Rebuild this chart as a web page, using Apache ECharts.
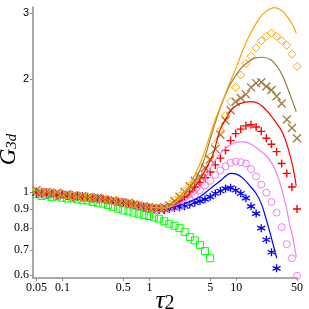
<!DOCTYPE html>
<html><head><meta charset="utf-8">
<script src="https://cdn.jsdelivr.net/npm/echarts@6/dist/echarts.min.js"></script>
<style>html,body{margin:0;padding:0;background:#fff}#c{width:309px;height:309px}</style>
</head><body><div id="c"></div>
<script>
// shared tau grid for the measured points
var tau = [0.05,0.0573,0.0656,0.0751,0.0860,0.0984,0.1127,0.1291,0.1478,0.1692,0.1938,0.2219,0.2541,0.2909,0.3331,0.3814,0.4367,0.5,0.573,0.656,0.751,0.860,0.984,1.127,1.291,1.478,1.692,1.938,2.219,2.541,2.909,3.331,3.814,4.367,5.0,5.73,6.56,7.51,8.60,9.84,11.27,12.91,14.78,16.92,19.38,22.19,25.41,29.09,33.31,38.14,43.67,50.0];

var greenPts = [0.985,0.975,0.98,0.97,0.972,0.965,0.96,0.962,0.955,0.95,0.948,0.94,0.935,0.93,0.922,0.912,0.902,0.892,0.887,0.88,0.875,0.868,0.862,0.855,0.848,0.835,0.822,0.812,0.8,0.782,0.758,0.742,0.722,0.695,0.665];
var bluePts = [0.99,1.0,0.985,0.99,0.98,0.985,0.975,0.98,0.97,0.975,0.965,0.96,0.965,0.955,0.95,0.945,0.94,0.935,0.93,0.925,0.915,0.91,0.905,0.9,0.895,0.895,0.9,0.905,0.91,0.915,0.925,0.935,0.945,0.955,0.97,0.99,1.005,1.02,1.025,1.01,0.99,0.962,0.915,0.875,0.8,0.745,0.69,0.625];
var violetPts = [1.0,0.99,1.0,0.985,0.99,0.98,0.985,0.975,0.98,0.97,0.965,0.97,0.96,0.955,0.95,0.945,0.94,0.94,0.93,0.925,0.92,0.915,0.91,0.905,0.9,0.9,0.905,0.91,0.915,0.925,0.95,0.98,1.01,1.04,1.07,1.11,1.14,1.17,1.195,1.205,1.2,1.19,1.15,1.1,1.045,0.995,0.94,0.88,0.805,0.725,0.665,0.597];
var redPts = [1.0,0.985,0.995,0.99,0.98,0.985,0.975,0.97,0.975,0.965,0.97,0.96,0.955,0.96,0.95,0.945,0.94,0.935,0.93,0.925,0.92,0.91,0.91,0.9,0.9,0.9,0.91,0.925,0.945,0.97,1.0,1.03,1.06,1.09,1.13,1.18,1.23,1.29,1.37,1.43,1.47,1.5,1.51,1.49,1.45,1.39,1.34,1.28,1.19,1.12,1.03,0.9];
var brownPts = [1.01,0.995,1.0,0.99,0.995,0.98,0.985,0.975,0.97,0.975,0.965,0.96,0.965,0.955,0.95,0.95,0.94,0.935,0.935,0.925,0.92,0.915,0.91,0.905,0.905,0.91,0.92,0.945,0.97,1.0,1.035,1.07,1.1,1.16,1.22,1.3,1.42,1.55,1.65,1.74,1.78,1.82,1.9,1.95,1.96,1.91,1.87,1.8,1.72,1.56,1.48,1.39];
var orangePts = [1.005,1.0,0.99,0.995,0.985,0.99,0.98,0.975,0.98,0.97,0.965,0.965,0.96,0.955,0.955,0.945,0.945,0.935,0.93,0.93,0.92,0.915,0.91,0.905,0.905,0.91,0.925,0.95,0.975,1.005,1.04,1.08,1.11,1.17,1.24,1.34,1.46,1.6,1.74,1.9,2.05,2.2,2.3,2.42,2.53,2.6,2.65,2.6,2.53,2.46,2.33,2.16];

// theory curves
var blueLineX = [1,1.5,2.2,3,3.8,5,6.4,7.5,8.6,10,11.9,14.2,16.9,19.4,22.1,24,26.3,28,29.2];
var blueLineY = [0.91,0.905,0.92,0.945,0.97,1.02,1.065,1.1,1.12,1.115,1.088,1.04,0.99,0.93,0.845,0.79,0.73,0.69,0.665];
var violetLineX = [1,1.5,2.2,3,3.8,5,6.4,8,9.5,11.5,14,18.6,22,26.3,30,34.4,38,41,45,49];
var violetLineY = [0.91,0.905,0.93,0.97,1.02,1.15,1.26,1.32,1.35,1.36,1.35,1.29,1.25,1.18,1.1,0.99,0.9,0.823,0.75,0.67];
var redLineX = [1,1.5,2.2,3,4,5.4,6.4,8,9.1,11,14.9,18,22.1,27,34.4,41,45,49];
var redLineY = [0.91,0.905,0.94,1.0,1.1,1.26,1.45,1.6,1.67,1.72,1.74,1.72,1.653,1.56,1.432,1.266,1.16,1.035];
var brownLineX = [1,1.5,2.2,3,4,5,6.4,8,9.1,11,13,16,20.2,25,30,34.4,40,45,49];
var brownLineY = [0.91,0.905,0.95,1.03,1.17,1.38,1.652,1.88,1.987,2.12,2.2,2.27,2.286,2.25,2.15,2.03,1.86,1.73,1.636];
var orangeLineX = [1,1.5,2.2,3,4,5,5.9,7,8,10,12,14,17,20,24,27.5,33,40,45,49];
var orangeLineY = [0.91,0.905,0.96,1.06,1.22,1.42,1.586,1.75,1.9,2.15,2.4,2.6,2.82,2.97,3.07,3.1,3.05,2.9,2.78,2.65];

var xTicks = [0.05,0.1,0.5,1,5,10,50];
var xTickLabels = ['0.05','0.1','0.5','1','5','10','50'];
var yTicks = [0.6,0.7,0.8,0.9,1,2,3];
var yTickLabels = ['0.6','0.7','0.8','0.9','1','2','3'];

var L = Math.log10;
function pts(xs, ys){ return ys.map(function(y,i){ return [L(xs[i]), L(y)]; }); }
function lab(ticks, labels, v, sansSet){
  for (var i=0;i<ticks.length;i++){ if (Math.abs(L(ticks[i])-v)<1e-6){
    return (sansSet && sansSet.indexOf(labels[i])>=0) ? '{s|'+labels[i]+'}' : labels[i]; } }
  return '';
}
var serif = 'Liberation Serif';
var axisCol = '#8c8c8c';

var C = {green:'#00ff00', blue:'#0000ff', violet:'#ee82ee', red:'#ff0000', brown:'#9b7a3c', orange:'#ffa500'};
var SYM = {
  plus:'path://M5,0L5,10M0,5L10,5',
  cross:'path://M0,0L10,10M10,0L0,10',
  star:'path://M5,0L5,10M0.67,2.5L9.33,7.5M0.67,7.5L9.33,2.5'
};
function scat(data, sym, size, col, bw){
  return {type:'scatter', data:data, symbol:sym, symbolSize:size, clip:false, z:2,
    itemStyle:{color:'rgba(0,0,0,0)', borderColor:col, borderWidth:bw, opacity:1}};
}
function line(data, col){
  return {type:'line', data:data, smooth:0.4, showSymbol:false, symbol:'none', clip:false, z:3,
    lineStyle:{color:col, width:1.2}};
}

var chart = echarts.init(document.getElementById('c'), null, {renderer:'canvas'});
chart.setOption({
  animation:false,
  backgroundColor:'#fff',
  grid:{left:33, right:12, top:7, bottom:31, containLabel:false, outerBoundsMode:'none'},
  xAxis:{type:'value', min:L(0.0456), max:L(50),
    name:'{t|τ}{n|2}', nameLocation:'middle', nameGap:10, nameMoveOverlap:false,
    nameTextStyle:{padding:[0,0,0,0], rich:{t:{fontFamily:serif, fontStyle:'italic', fontSize:25, color:'#000'}, n:{fontFamily:serif, fontSize:20, color:'#000', padding:[6,0,0,0]}}},
    axisLine:{onZero:false, lineStyle:{color:axisCol, width:1.5}},
    axisTick:{show:true, customValues:xTicks.map(L), length:3, lineStyle:{color:axisCol, width:1}},
    axisLabel:{customValues:xTicks.map(L), formatter:function(v){return lab(xTicks,xTickLabels,v);}, fontFamily:serif, fontSize:12, color:'#000', margin:4},
    splitLine:{show:false}},
  yAxis:{type:'value', min:L(0.589), max:L(3.113),
    name:'{g|G}{s|3d}', nameLocation:'middle', nameRotate:90, nameGap:13, nameMoveOverlap:false,
    nameTextStyle:{padding:[0,14,0,0], rich:{g:{fontFamily:serif, fontStyle:'italic', fontSize:23, color:'#000'}, s:{fontFamily:serif, fontStyle:'italic', fontSize:15, color:'#000', padding:[8,0,0,0]}}},
    axisLine:{onZero:false, lineStyle:{color:axisCol, width:1.5}},
    axisTick:{show:true, customValues:yTicks.map(L), length:3, lineStyle:{color:axisCol, width:1}},
    axisLabel:{customValues:yTicks.map(L), formatter:function(v){return lab(yTicks,yTickLabels,v,['2','3']);}, fontFamily:serif, fontSize:12, color:'#000', margin:4,
      rich:{s:{fontFamily:'Liberation Sans', fontSize:11, color:'#000'}}},
    splitLine:{show:false}},
  series:[
    scat(pts(tau, greenPts), 'rect', 7, C.green, 1),
    scat(pts(tau, bluePts), SYM.star, 8, C.blue, 1.3),
    scat(pts(tau, violetPts), 'circle', 7, C.violet, 1),
    scat(pts(tau, redPts), SYM.plus, 8, C.red, 1.4),
    scat(pts(tau, brownPts), SYM.cross, 8, C.brown, 1.3),
    scat(pts(tau, orangePts), 'diamond', 8, C.orange, 1),
    line(pts(blueLineX, blueLineY), C.blue),
    line(pts(violetLineX, violetLineY), C.violet),
    line(pts(redLineX, redLineY), C.red),
    line(pts(brownLineX, brownLineY), C.brown),
    line(pts(orangeLineX, orangeLineY), C.orange)
  ]
});
</script></body></html>
